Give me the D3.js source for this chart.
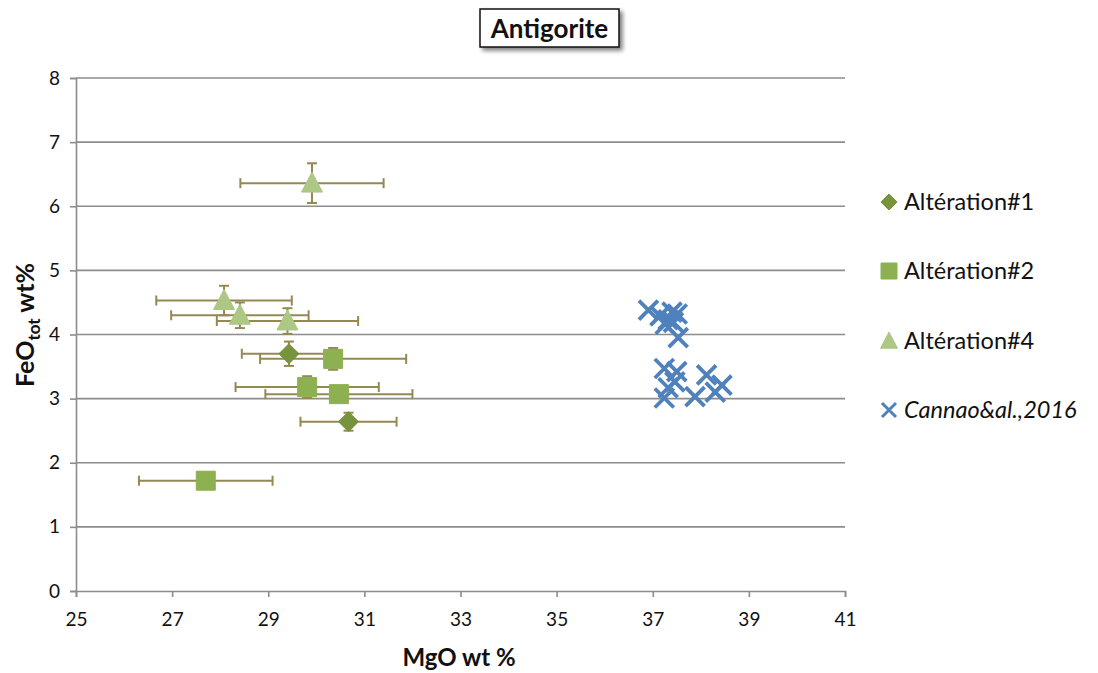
<!DOCTYPE html>
<html><head><meta charset="utf-8">
<script src="https://cdn.jsdelivr.net/npm/d3@7"></script>
<style>body{margin:0;background:#fff;}svg{display:block;font-family:Lato,"Open Sans",sans-serif;}</style>
</head><body><svg id="c" width="1098" height="673"></svg>
<script>
// ---- data ----
const xTicks = [25,27,29,31,33,35,37,39,41];
const yTicks = [0,1,2,3,4,5,6,7,8];
const seriesNames = ["Altération#1","Altération#2","Altération#4","Cannao&al.,2016"];

const alt1MgO = [29.43, 30.67];
const alt1FeO = [3.70, 2.64];
const alt1MgOErr = [0.98, 1.00];
const alt1FeOErr = [0.19, 0.14];

const alt2MgO = [30.35, 29.81, 30.47, 27.70];
const alt2FeO = [3.62, 3.18, 3.07, 1.72];
const alt2MgOErr = [1.52, 1.49, 1.53, 1.39];
const alt2FeOErr = [0.17, 0.17, 0.12, 0.08];

const alt4MgO = [29.91, 28.08, 28.41, 29.40];
const alt4FeO = [6.36, 4.53, 4.30, 4.21];
const alt4MgOErr = [1.49, 1.41, 1.43, 1.47];
const alt4FeOErr = [0.31, 0.23, 0.20, 0.20];

const cannaoMgO = [36.91,37.15,37.32,37.40,37.51,37.43,37.26,37.53, 37.24,37.50,37.46,37.32,37.24,38.12,37.88,38.44,38.30];
const cannaoFeO = [4.38,4.29,4.23,4.35,4.32,4.19,4.16,3.95, 3.47,3.42,3.26,3.17,3.01,3.37,3.03,3.21,3.10];

// ---- layout ----
const svg = d3.select("#c");
const L=76, R=845, T=78, B=591;
const x = d3.scaleLinear().domain([25,41]).range([L,R]);
const y = d3.scaleLinear().domain([0,8]).range([B,T]);
const gridCol="#8c8c8c", errCol="#938953";
const colA1="#77933C", colA2="#8DB050", colA4="#ADC785", colC="#4F81BD";

// gridlines
svg.append("g").selectAll("line").data(yTicks.filter(d=>d>0)).join("line")
  .attr("x1",L).attr("x2",R).attr("y1",d=>y(d)).attr("y2",d=>y(d))
  .attr("stroke",gridCol).attr("stroke-width",1.6);

// axes
const yAx = svg.append("g").attr("transform",`translate(${L},0)`)
  .call(d3.axisLeft(y).tickValues(yTicks).tickSize(6).tickPadding(10).tickFormat(d3.format("d")));
const xAx = svg.append("g").attr("transform",`translate(0,${B})`)
  .call(d3.axisBottom(x).tickValues(xTicks).tickSize(6).tickPadding(16).tickFormat(d3.format("d")));
[yAx,xAx].forEach(g=>{
  g.select(".domain").attr("stroke",gridCol).attr("stroke-width",1.6);
  g.selectAll(".tick line").attr("stroke",gridCol).attr("stroke-width",1.6);
  g.selectAll("text").attr("font-size",19).attr("fill","#111").attr("font-family","Lato,'Open Sans',sans-serif");
});

// axis titles
svg.append("text").attr("x",459).attr("y",666).attr("text-anchor","middle")
  .attr("font-size",24).attr("font-weight","bold").attr("fill","#111").text("MgO wt %");
const yt = svg.append("text").attr("transform","translate(34,325) rotate(-90)").attr("text-anchor","middle")
  .attr("font-size",25).attr("font-weight","bold").attr("fill","#111");
yt.append("tspan").text("FeO");
yt.append("tspan").attr("font-size",17).attr("dy",6).text("tot");
yt.append("tspan").attr("dy",-6).text(" wt%");

// error bars
function errBars(mx, fy, ex, ey){
  const g = svg.append("g").attr("stroke",errCol).attr("stroke-width",2).attr("fill","none");
  mx.forEach((v,i)=>{
    const cx=x(v), cy=y(fy[i]), x0=x(v-ex[i]), x1=x(v+ex[i]), y0=y(fy[i]-ey[i]), y1=y(fy[i]+ey[i]);
    g.append("line").attr("x1",x0).attr("x2",x1).attr("y1",cy).attr("y2",cy);
    g.append("line").attr("x1",x0).attr("x2",x0).attr("y1",cy-5).attr("y2",cy+5);
    g.append("line").attr("x1",x1).attr("x2",x1).attr("y1",cy-5).attr("y2",cy+5);
    g.append("line").attr("x1",cx).attr("x2",cx).attr("y1",y0).attr("y2",y1);
    g.append("line").attr("x1",cx-5).attr("x2",cx+5).attr("y1",y0).attr("y2",y0);
    g.append("line").attr("x1",cx-5).attr("x2",cx+5).attr("y1",y1).attr("y2",y1);
  });
}
errBars(alt1MgO,alt1FeO,alt1MgOErr,alt1FeOErr);
errBars(alt2MgO,alt2FeO,alt2MgOErr,alt2FeOErr);
errBars(alt4MgO,alt4FeO,alt4MgOErr,alt4FeOErr);

// marker shapes
const diamond = s=>`M0,${-s}L${s},0L0,${s}L${-s},0Z`;
const square = s=>`M${-s},${-s}H${s}V${s}H${-s}Z`;
const tri = s=>`M0,${-s*1.05}L${s},${s*0.85}L${-s},${s*0.85}Z`;
const cross = s=>`M${-s},${-s}L${s},${s}M${-s},${s}L${s},${-s}`;

function markers(mx, fy, path, col){
  svg.append("g").selectAll("path").data(mx).join("path")
    .attr("transform",(d,i)=>`translate(${x(d)},${y(fy[i])})`)
    .attr("d",path).attr("fill",col).attr("stroke",col).attr("stroke-width",1).attr("stroke-linejoin","round");
}
markers(alt1MgO,alt1FeO,diamond(10),colA1);
markers(alt2MgO,alt2FeO,square(9.5),colA2);
markers(alt4MgO,alt4FeO,tri(10.5),colA4);
svg.append("g").selectAll("path").data(cannaoMgO).join("path")
  .attr("transform",(d,i)=>`translate(${x(d)},${y(cannaoFeO[i])})`)
  .attr("d",cross(9.5)).attr("fill","none").attr("stroke",colC).attr("stroke-width",3.8);

// legend
const legY=[202,271,341,410];
const lg = svg.append("g");
const legShapes=[diamond(8),square(8),tri(8.5),cross(7)];
const legCols=[colA1,colA2,colA4,colC];
seriesNames.forEach((n,i)=>{
  const p = lg.append("path").attr("transform",`translate(889,${legY[i]})`).attr("d",legShapes[i]);
  if(i<3) p.attr("fill",legCols[i]).attr("stroke",legCols[i]);
  else p.attr("fill","none").attr("stroke",legCols[i]).attr("stroke-width",3);
  lg.append("text").attr("x",904).attr("y",legY[i]+8).attr("font-size",23.5).attr("fill","#111")
    .attr("font-style",i===3?"italic":"normal").text(n);
});

// title box
const defs = svg.append("defs");
const f = defs.append("filter").attr("id","sh").attr("x","-20%").attr("y","-30%").attr("width","140%").attr("height","170%");
f.append("feGaussianBlur").attr("in","SourceAlpha").attr("stdDeviation",2);
f.append("feOffset").attr("dx",3).attr("dy",3).attr("result","o");
f.append("feComponentTransfer").append("feFuncA").attr("type","linear").attr("slope",0.5);
const fm=f.append("feMerge"); fm.append("feMergeNode"); fm.append("feMergeNode").attr("in","SourceGraphic");
svg.append("rect").attr("x",480).attr("y",9).attr("width",139).attr("height",38)
  .attr("fill","#fff").attr("stroke","#111").attr("stroke-width",1.5).attr("filter","url(#sh)");
svg.append("text").attr("x",549.5).attr("y",38).attr("text-anchor","middle")
  .attr("font-size",26).attr("font-weight","bold").attr("fill","#111").text("Antigorite");
</script></body></html>
